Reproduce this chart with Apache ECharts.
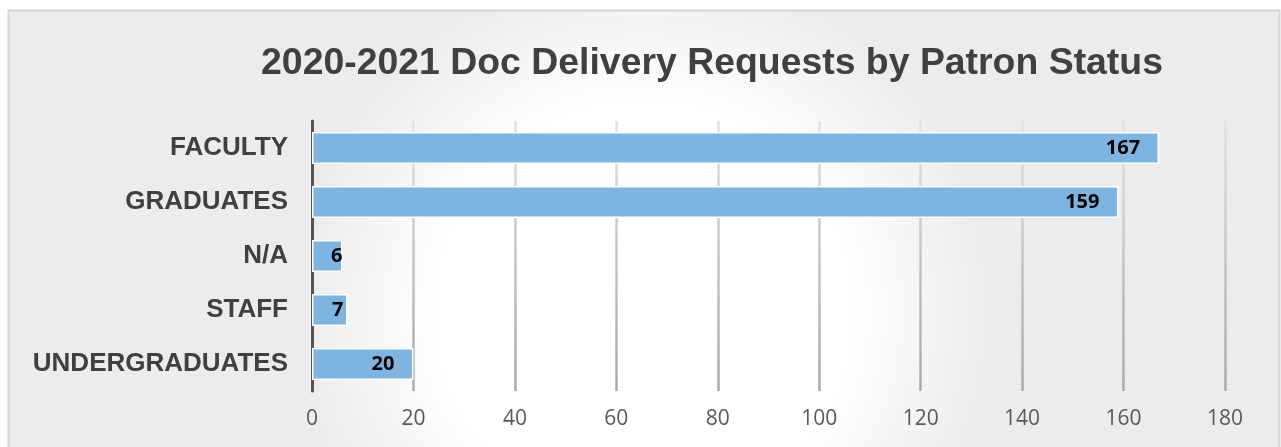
<!DOCTYPE html>
<html><head><meta charset="utf-8">
<script src="https://cdn.jsdelivr.net/npm/echarts@6/dist/echarts.min.js"></script>
<style>html,body{margin:0;padding:0;background:#fff}#c{width:1281px;height:447px}</style>
</head><body><div id="c"></div>
<script>
const categories = ['FACULTY','GRADUATES','N/A','STAFF','UNDERGRADUATES'];
const values = [167,159,6,7,20];
const titleText = '2020-2021 Doc Delivery Requests by Patron Status';

const seriesData = values.map(v => v < 10
  ? {value: v, label: {distance: v < 7 ? 0 : 4}}
  : {value: v});

const chart = echarts.init(document.getElementById('c'));
chart.setOption({
  animation: false,
  graphic: [{
    type: 'rect', z: -10, silent: true,
    shape: {x: 8.5, y: 10.5, width: 1271, height: 460},
    style: {
      fill: new echarts.graphic.RadialGradient(0.5, 0.65, 0.75, [
        {offset: 0, color: '#ffffff'}, {offset: 0.6, color: '#ffffff'}, {offset: 1, color: '#ececec'}
      ]),
      stroke: '#d4d4d4', lineWidth: 2
    }
  }],
  title: {
    text: titleText, left: 707, top: 40, textAlign: 'center',
    textStyle: {fontFamily: 'Liberation Sans', fontWeight: 'bold', fontSize: 37.4, color: '#404040'}
  },
  grid: {left: 312, right: 56, top: 121, bottom: 56, containLabel: false},
  xAxis: {
    type: 'value', min: 0, max: 180, interval: 20,
    axisLine: {show: false}, axisTick: {show: false},
    axisLabel: {fontFamily: 'Open Sans', fontSize: 21, color: '#595959', margin: 18},
    splitLine: {show: true, lineStyle: {width: 2.5,
      color: new echarts.graphic.LinearGradient(0, 0, 0, 1, [
        {offset: 0, color: '#e2e2e2'}, {offset: 1, color: '#a9a9a9'}
      ])}}
  },
  yAxis: {
    type: 'category', data: categories, inverse: true,
    axisLine: {show: true, lineStyle: {color: '#555555', width: 3}},
    axisTick: {show: false},
    axisLabel: {fontFamily: 'Liberation Sans', fontWeight: 'bold', fontSize: 26, color: '#404040', margin: 24, padding: [4, 0, 0, 0]}
  },
  series: [{
    type: 'bar', data: seriesData, barWidth: 32,
    itemStyle: {color: '#7eb4e0', borderColor: '#ffffff', borderWidth: 1.5},
    label: {show: true, position: 'insideRight', distance: 19,
      fontFamily: 'Open Sans', fontWeight: 'bold', fontSize: 20, color: '#000000'}
  }]
});
</script></body></html>
